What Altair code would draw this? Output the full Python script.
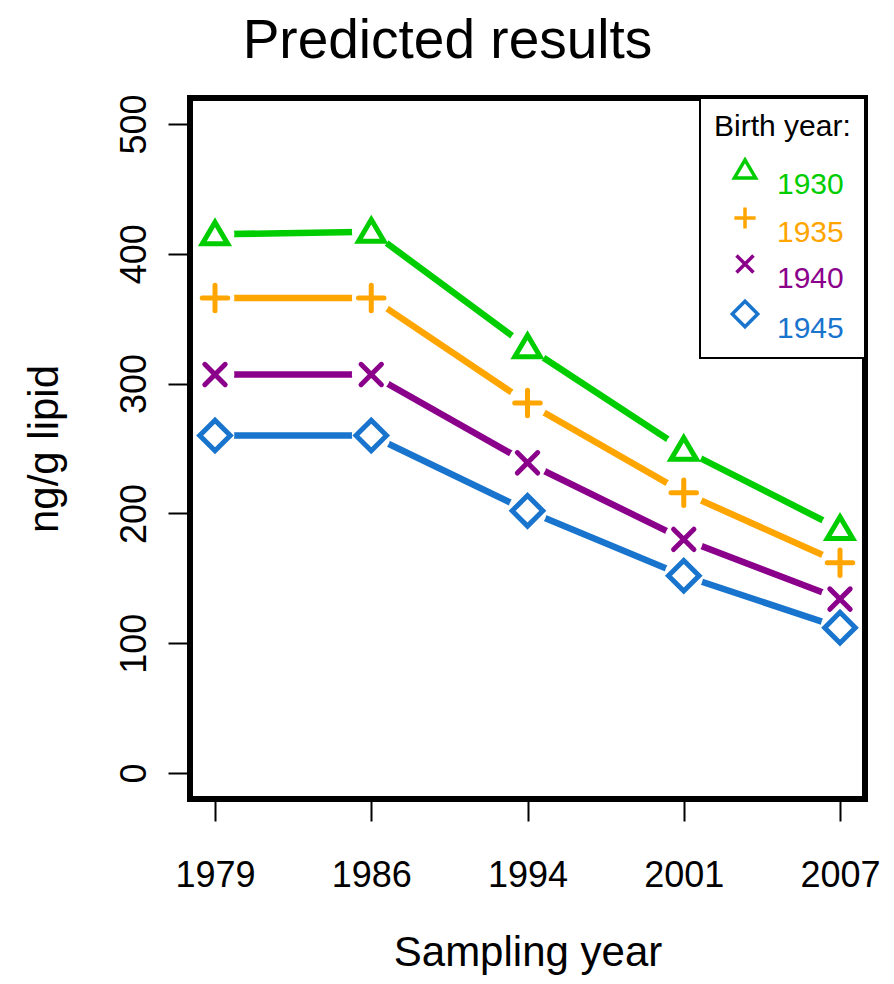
import altair as alt
import pandas as pd

sampling_years = ["1979", "1986", "1994", "2001", "2007"]
birth_years = ["1930", "1935", "1940", "1945"]
vals_1930 = [415, 417, 328, 249, 188]
vals_1935 = [366, 366, 285, 216, 162]
vals_1940 = [307, 307, 239, 180, 134]
vals_1945 = [260, 260, 202, 152, 112]
colors = ["#00CD00", "#FFA500", "#8B008B", "#1874CD"]
shapes = [
    "M0,-0.95L1,0.75L-1,0.75Z",
    "M-1,0H1M0,-1V1",
    "M-0.8,-0.8L0.8,0.8M-0.8,0.8L0.8,-0.8",
    "M-1.2,0L0,-1.2L1.2,0L0,1.2Z",
]
y_ticks = [0, 100, 200, 300, 400, 500]

rows = []
for by, vals in zip(birth_years, [vals_1930, vals_1935, vals_1940, vals_1945]):
    for sy, v in zip(sampling_years, vals):
        rows.append({"sampling": sy, "birth": by, "value": v})
df = pd.DataFrame(rows)

FONT = "Liberation Sans"

x = alt.X("sampling:O", scale=alt.Scale(type="point", padding=0.16, domain=sampling_years),
          axis=alt.Axis(title="Sampling year", labelAngle=0))
y = alt.Y("value:Q", scale=alt.Scale(domain=[-20, 520], nice=False, zero=False),
          axis=alt.Axis(title="ng/g lipid", values=y_ticks))

color_scale = alt.Scale(domain=birth_years, range=colors)
shape_scale = alt.Scale(domain=birth_years, range=shapes)

label_color_expr = " : ".join(
    f"datum.value == '{b}' ? '{c}'" for b, c in zip(birth_years, colors)
) + " : 'black'"

legend = alt.Legend(
    title="Birth year:", orient="top-right", offset=0,
    fillColor="white", strokeColor="black", padding=14,
    titleFontSize=30, titleFont=FONT, titleFontWeight="normal", titleColor="black",
    titlePadding=13, labelFontSize=30, labelFont=FONT, rowPadding=0,
    labelBaseline="top",
    labelColor={"expr": label_color_expr},
    symbolOffset=16, labelOffset=17, symbolSize=450, symbolStrokeWidth=3.5,
)

base = alt.Chart(df)

# line colours come from a data-driven (sorted) domain so that this scale is not
# merged with the legend of the marker layer
lines = base.mark_line(strokeWidth=6.5, strokeCap="round").encode(
    x=x, y=y,
    stroke=alt.Stroke("birth:N", scale=alt.Scale(range=colors), legend=None),
    detail="birth:N",
)

halo = base.mark_point(filled=True, shape="circle", size=1500, color="white", opacity=1).encode(
    x=x, y=y
)

points = base.mark_point(filled=False, strokeWidth=5, size=650, strokeCap="round", opacity=1).encode(
    x=x, y=y,
    color=alt.Color("birth:N", scale=color_scale, legend=legend),
    shape=alt.Shape("birth:N", scale=shape_scale, legend=legend),
)

chart = alt.layer(lines, halo, points).properties(
    width=675, height=701,
    title=alt.Title("Predicted results", fontSize=55, font=FONT, fontWeight="normal",
                    color="black", dx=-80, offset=24, anchor="middle"),
    autosize=alt.AutoSizeParams(type="none"),
    padding={"left": 182, "top": 90, "right": 21, "bottom": 176},
).configure_view(
    stroke="black", strokeWidth=6
).configure_legend(
    strokeWidth=2
).configure_axis(
    grid=False, domain=False, ticks=True, tickColor="black", tickWidth=2, tickSize=22,
    labelFont=FONT, labelFontSize=36, labelColor="black",
    titleFont=FONT, titleFontSize=42, titleFontWeight="normal", titleColor="black",
).configure_axisX(
    labelPadding=37, titlePadding=39
).configure_axisY(
    labelAngle=270, labelAlign="center", labelBaseline="bottom", labelPadding=15, titlePadding=50
)

chart.save("out.html", embed_options={"renderer": "svg", "actions": False})
